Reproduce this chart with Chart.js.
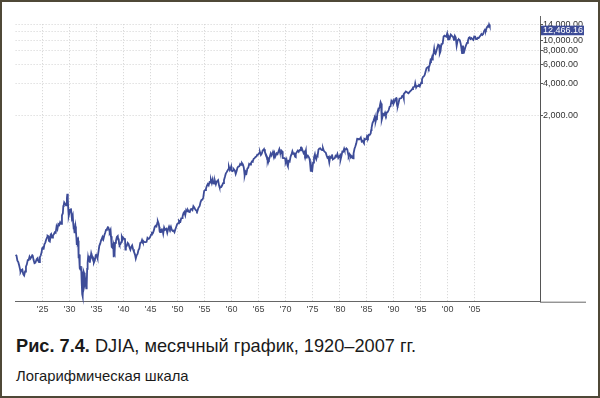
<!DOCTYPE html>
<html><head><meta charset="utf-8">
<script src="https://cdn.jsdelivr.net/npm/chart.js@4.4.0/dist/chart.umd.min.js"></script>
<style>
html,body{margin:0;padding:0;background:#fff;}
#wrap{position:relative;width:600px;height:398px;overflow:hidden;background:#fff;font-family:"Liberation Sans",Arial,sans-serif;}
#frame{position:absolute;left:0;top:0;width:600px;height:398px;box-sizing:border-box;border:2px solid #4f4837;pointer-events:none;}
#cv{position:absolute;left:0;top:0;width:600px;height:320px;}
.cap1{position:absolute;left:16px;top:337px;font-size:18.2px;line-height:18.2px;color:#1a1a1a;white-space:nowrap;}
.cap2{position:absolute;left:16px;top:369px;font-size:14.8px;line-height:14.8px;color:#1a1a1a;white-space:nowrap;}
</style></head>
<body>
<div id="wrap">
<canvas id="cv" width="600" height="320"></canvas>
<div class="cap1"><b>Рис. 7.4.</b> DJIA, месячный график, 1920–2007 гг.</div>
<div class="cap2">Логарифмическая шкала</div>
<div id="frame"></div>
</div>
<script>
// Month of observation (YYYY-MM) and DJIA month-end close
const dates = [
"1920-01","1920-03","1920-05","1920-07","1920-09","1920-11","1920-12",
"1921-02","1921-04","1921-06","1921-08","1921-10","1921-12",
"1922-02","1922-04","1922-06","1922-08","1922-10","1922-12",
"1923-02","1923-03","1923-05","1923-07","1923-09","1923-11","1923-12",
"1924-02","1924-04","1924-05","1924-07","1924-09","1924-11","1924-12",
"1925-02","1925-03","1925-05","1925-07","1925-09","1925-11","1925-12",
"1926-02","1926-03","1926-05","1926-07","1926-08","1926-10","1926-12",
"1927-02","1927-04","1927-06","1927-08","1927-10","1927-12",
"1928-02","1928-04","1928-06","1928-08","1928-10","1928-11","1928-12",
"1929-01","1929-03","1929-05","1929-07","1929-08","1929-09","1929-10","1929-11","1929-12",
"1930-02","1930-04","1930-06","1930-08","1930-09","1930-10","1930-11","1930-12",
"1931-02","1931-03","1931-04","1931-05","1931-06","1931-07","1931-08","1931-09","1931-10","1931-11","1931-12",
"1932-01","1932-02","1932-03","1932-04","1932-05","1932-06","1932-07","1932-08","1932-09","1932-10","1932-11","1932-12",
"1933-01","1933-02","1933-03","1933-04","1933-05","1933-06","1933-07","1933-08","1933-09","1933-10","1933-11","1933-12",
"1934-01","1934-02","1934-04","1934-06","1934-07","1934-09","1934-11","1934-12",
"1935-02","1935-03","1935-05","1935-07","1935-09","1935-11","1935-12",
"1936-02","1936-04","1936-06","1936-08","1936-10","1936-12",
"1937-02","1937-03","1937-05","1937-06","1937-08","1937-09","1937-10","1937-11","1937-12",
"1938-01","1938-02","1938-03","1938-04","1938-05","1938-06","1938-08","1938-10","1938-12",
"1939-01","1939-02","1939-03","1939-04","1939-06","1939-08","1939-09","1939-11","1939-12",
"1940-02","1940-04","1940-05","1940-06","1940-08","1940-10","1940-12",
"1941-02","1941-04","1941-06","1941-08","1941-10","1941-12",
"1942-02","1942-04","1942-06","1942-08","1942-10","1942-12",
"1943-02","1943-04","1943-06","1943-08","1943-10","1943-12",
"1944-02","1944-04","1944-06","1944-08","1944-10","1944-12",
"1945-02","1945-04","1945-06","1945-08","1945-10","1945-12",
"1946-02","1946-04","1946-05","1946-07","1946-08","1946-09","1946-10","1946-12",
"1947-02","1947-04","1947-05","1947-07","1947-09","1947-12",
"1948-02","1948-04","1948-06","1948-08","1948-10","1948-12",
"1949-02","1949-04","1949-06","1949-08","1949-10","1949-12",
"1950-02","1950-04","1950-06","1950-07","1950-09","1950-11","1950-12",
"1951-02","1951-04","1951-06","1951-08","1951-10","1951-12",
"1952-02","1952-04","1952-06","1952-08","1952-10","1952-12",
"1953-02","1953-04","1953-06","1953-08","1953-09","1953-11","1953-12",
"1954-02","1954-04","1954-06","1954-08","1954-10","1954-12",
"1955-02","1955-04","1955-06","1955-08","1955-10","1955-12",
"1956-02","1956-03","1956-05","1956-07","1956-09","1956-11","1956-12",
"1957-02","1957-04","1957-06","1957-07","1957-09","1957-10","1957-12",
"1958-02","1958-04","1958-06","1958-08","1958-10","1958-12",
"1959-02","1959-04","1959-06","1959-07","1959-09","1959-11","1959-12",
"1960-01","1960-03","1960-05","1960-06","1960-08","1960-10","1960-12",
"1961-02","1961-04","1961-06","1961-08","1961-10","1961-12",
"1962-02","1962-04","1962-05","1962-06","1962-08","1962-10","1962-12",
"1963-02","1963-04","1963-06","1963-08","1963-10","1963-11","1963-12",
"1964-02","1964-04","1964-06","1964-08","1964-10","1964-12",
"1965-02","1965-04","1965-06","1965-08","1965-10","1965-12",
"1966-01","1966-03","1966-05","1966-07","1966-08","1966-09","1966-10","1966-12",
"1967-02","1967-04","1967-06","1967-08","1967-09","1967-11","1967-12",
"1968-02","1968-03","1968-05","1968-07","1968-09","1968-11","1968-12",
"1969-02","1969-04","1969-05","1969-06","1969-07","1969-09","1969-11","1969-12",
"1970-01","1970-03","1970-04","1970-05","1970-06","1970-08","1970-10","1970-12",
"1971-02","1971-04","1971-06","1971-08","1971-10","1971-11","1971-12",
"1972-02","1972-04","1972-06","1972-08","1972-10","1972-11","1972-12",
"1973-01","1973-03","1973-05","1973-07","1973-08","1973-10","1973-11","1973-12",
"1974-02","1974-04","1974-06","1974-07","1974-08","1974-09","1974-10","1974-11","1974-12",
"1975-02","1975-04","1975-06","1975-07","1975-09","1975-11","1975-12",
"1976-02","1976-04","1976-06","1976-08","1976-10","1976-12",
"1977-02","1977-04","1977-06","1977-08","1977-10","1977-12",
"1978-02","1978-04","1978-06","1978-08","1978-10","1978-12",
"1979-02","1979-04","1979-06","1979-08","1979-10","1979-12",
"1980-02","1980-03","1980-05","1980-07","1980-09","1980-11","1980-12",
"1981-02","1981-04","1981-06","1981-08","1981-09","1981-11","1981-12",
"1982-02","1982-04","1982-06","1982-07","1982-08","1982-10","1982-12",
"1983-02","1983-04","1983-06","1983-08","1983-10","1983-12",
"1984-02","1984-04","1984-06","1984-07","1984-08","1984-10","1984-12",
"1985-02","1985-04","1985-06","1985-08","1985-10","1985-11","1985-12",
"1986-02","1986-04","1986-06","1986-07","1986-08","1986-09","1986-11","1986-12",
"1987-01","1987-03","1987-04","1987-06","1987-08","1987-09","1987-10","1987-11","1987-12",
"1988-02","1988-04","1988-06","1988-08","1988-10","1988-12",
"1989-02","1989-04","1989-06","1989-08","1989-10","1989-12",
"1990-01","1990-03","1990-05","1990-07","1990-08","1990-09","1990-10","1990-12",
"1991-02","1991-04","1991-06","1991-08","1991-10","1991-11","1991-12",
"1992-02","1992-04","1992-06","1992-08","1992-10","1992-12",
"1993-02","1993-04","1993-06","1993-08","1993-10","1993-12",
"1994-01","1994-03","1994-05","1994-07","1994-09","1994-11","1994-12",
"1995-02","1995-04","1995-06","1995-08","1995-10","1995-12",
"1996-02","1996-04","1996-06","1996-07","1996-09","1996-11","1996-12",
"1997-02","1997-03","1997-04","1997-06","1997-07","1997-08","1997-10","1997-12",
"1998-02","1998-04","1998-06","1998-07","1998-08","1998-09","1998-11","1998-12",
"1999-02","1999-04","1999-06","1999-08","1999-10","1999-12",
"2000-01","2000-02","2000-04","2000-06","2000-08","2000-10","2000-12",
"2001-02","2001-03","2001-05","2001-07","2001-09","2001-11","2001-12",
"2002-02","2002-04","2002-06","2002-07","2002-09","2002-11","2002-12",
"2003-02","2003-04","2003-06","2003-08","2003-10","2003-12",
"2004-02","2004-04","2004-06","2004-08","2004-10","2004-12",
"2005-02","2005-04","2005-06","2005-08","2005-10","2005-12",
"2006-02","2006-04","2006-06","2006-08","2006-10","2006-12",
"2007-02","2007-04","2007-06","2007-07","2007-08","2007-09","2007-10","2007-11","2007-12"
];
const closes = [
104,102,92,89,83,76,72,
75,76,69,67,73,81,
85,93,93,100,96,99,
103,102,93,87,88,93,95,
97,90,89,99,103,111,120,
122,116,130,135,144,151,156,
154,140,138,160,162,150,157,
161,168,166,190,180,200,
196,208,201,240,252,293,300,
317,308,297,347,380,343,273,238,248,
272,279,226,240,204,183,183,165,
190,172,151,128,150,136,140,97,105,93,78,
76,82,73,56,45,43,54,73,71,61,56,60,
60,51,55,77,88,98,90,102,94,88,98,100,
107,103,100,96,88,92,103,104,
100,97,110,126,132,142,144,
152,145,157,166,177,180,
187,186,175,169,177,154,138,123,121,
121,129,99,111,108,134,140,152,155,
144,147,131,128,131,137,153,146,150,
146,148,116,122,126,134,131,
122,116,123,127,117,111,
106,96,103,106,115,119,
134,135,143,136,138,136,
136,137,149,146,147,152,
160,166,165,174,187,193,
190,206,212,201,189,172,169,177,
179,171,163,186,177,181,
166,180,190,181,189,177,
173,174,168,179,189,200,
203,214,209,209,226,227,235,
252,259,242,270,262,269,
260,258,274,275,269,292,
284,274,268,261,264,281,281,
294,319,334,336,352,404,
412,425,451,468,455,488,
484,512,478,518,475,473,500,
465,494,503,508,456,441,436,
440,456,478,509,543,584,
603,624,644,675,632,659,679,
622,616,626,641,626,580,616,
662,679,684,719,704,731,
711,665,613,561,609,590,652,
662,718,707,729,755,751,763,
800,811,832,839,873,874,
903,922,868,893,960,969,
983,924,884,847,788,774,807,786,
839,897,860,901,927,875,905,
840,840,899,883,936,985,944,
905,950,938,873,815,813,812,800,
744,786,736,700,684,765,756,839,
879,941,891,898,839,831,890,
928,954,929,964,956,1018,1020,
999,951,901,926,888,957,822,851,
860,837,802,757,679,608,665,619,616,
739,821,879,832,794,860,852,
973,997,1003,974,965,1005,
947,927,916,862,818,831,
742,837,819,877,792,805,
809,855,842,888,815,839,
863,786,851,935,932,993,964,
974,998,977,882,850,889,875,
824,848,812,809,901,992,1047,
1113,1226,1222,1216,1225,1259,
1155,1171,1132,1115,1224,1207,1212,
1300,1258,1336,1334,1375,1472,1547,
1709,1784,1893,1775,1898,1768,1914,1896,
2158,2305,2286,2419,2663,2596,1994,1834,1939,
2072,2032,2142,2032,2149,2169,
2259,2419,2440,2737,2645,2753,
2591,2707,2877,2905,2614,2453,2442,2634,
2882,2888,2907,3044,3069,2895,3169,
3268,3359,3319,3257,3226,3301,
3371,3428,3516,3651,3681,3754,
3978,3636,3758,3765,3843,3739,3834,
4011,4321,4556,4611,4756,5117,
5486,5569,5655,5529,5882,6522,6448,
6877,6584,7009,7673,8223,7622,7442,7908,
8546,9063,8952,8883,7539,7843,9117,9181,
9307,10789,10971,10829,10729,11497,
10941,10128,10734,10448,11215,10971,10787,
10495,9879,10912,10523,8848,9852,10022,
10106,9946,9243,8737,7592,8896,8342,
7891,8480,8985,9416,9801,10454,
10584,10226,10435,10174,10027,10783,
10766,10193,10275,10482,10440,10718,
10993,11367,11150,11381,12081,12463,
12269,13063,13409,13212,13358,13896,13930,13372,13265
];
const xTickYears = [1925,1930,1935,1940,1945,1950,1955,1960,1965,1970,1975,1980,1985,1990,1995,2000,2005];
const yTickValues = [2000,4000,6000,8000,10000,12000,14000];
const lastValueLabel = 12466.16;

const LINE = '#3d4c98';
const FONT = '"Liberation Sans", Arial, sans-serif';

const points = dates.map((d, i) => {
  const [yy, mm] = d.split('-').map(Number);
  return { x: yy + (mm - 1) / 12, y: closes[i] };
});

const fmt = v => v.toLocaleString('en-US', { minimumFractionDigits: 2, maximumFractionDigits: 2 });

const extras = {
  id: 'extras',
  afterDraw(chart) {
    const { ctx, chartArea, scales } = chart;
    ctx.save();
    ctx.strokeStyle = '#666';
    ctx.lineWidth = 1;
    ctx.beginPath();
    ctx.moveTo(chartArea.right, chartArea.bottom + 0.5);
    ctx.lineTo(586, chartArea.bottom + 0.5);
    ctx.stroke();
    ctx.beginPath();
    ctx.moveTo(chartArea.right + 0.5, 16);
    ctx.lineTo(chartArea.right + 0.5, chartArea.top);
    ctx.stroke();
    const yc = scales.y.getPixelForValue(lastValueLabel) + 0.8;
    ctx.fillStyle = '#3d4c98';
    ctx.fillRect(541, yc - 4.8, 43, 9.6);
    ctx.fillStyle = '#ffffff';
    ctx.font = '9px ' + FONT;
    ctx.textAlign = 'left';
    ctx.textBaseline = 'middle';
    ctx.fillText(fmt(lastValueLabel), 543, yc + 0.3);
    ctx.restore();
  }
};

new Chart(document.getElementById('cv').getContext('2d'), {
  type: 'line',
  data: {
    datasets: [{
      data: points,
      borderColor: LINE,
      borderWidth: 1.8,
      pointRadius: 0,
      tension: 0,
      fill: false,
      clip: false
    }]
  },
  options: {
    responsive: false,
    animation: false,
    events: [],
    layout: { padding: { left: 15.6, top: 24.2, right: 0, bottom: 0 } },
    plugins: { legend: { display: false }, tooltip: { enabled: false }, title: { display: false } },
    scales: {
      x: {
        type: 'linear',
        position: 'bottom',
        min: 1920,
        max: 2017.1,
        afterBuildTicks: s => { s.ticks = xTickYears.map(v => ({ value: v })); },
        afterFit: s => { s.height = 18.3; },
        grid: { color: '#d2d2d2', lineWidth: 1, drawTicks: false },
        border: { display: true, color: '#666', width: 1, dash: [1, 2] },
        ticks: {
          padding: 2,
          color: '#444',
          font: { size: 9, family: FONT },
          maxRotation: 0,
          autoSkip: false,
          callback: v => "'" + String(v % 100).padStart(2, '0')
        }
      },
      y: {
        type: 'logarithmic',
        position: 'right',
        min: 38.4,
        max: 14000,
        afterBuildTicks: s => { s.ticks = yTickValues.map(v => ({ value: v })); },
        afterFit: s => { s.width = 60; },
        grid: { color: '#d2d2d2', lineWidth: 1, drawTicks: true, tickLength: 3, tickColor: '#555', tickBorderDash: [] },
        border: { display: true, color: '#555', width: 1, dash: [1, 2] },
        ticks: {
          padding: 0,
          color: '#333',
          font: { size: 9, family: FONT },
          autoSkip: false,
          callback: v => (v === 12000 ? '' : fmt(v))
        }
      }
    }
  },
  plugins: [extras]
});
</script>
</body></html>
